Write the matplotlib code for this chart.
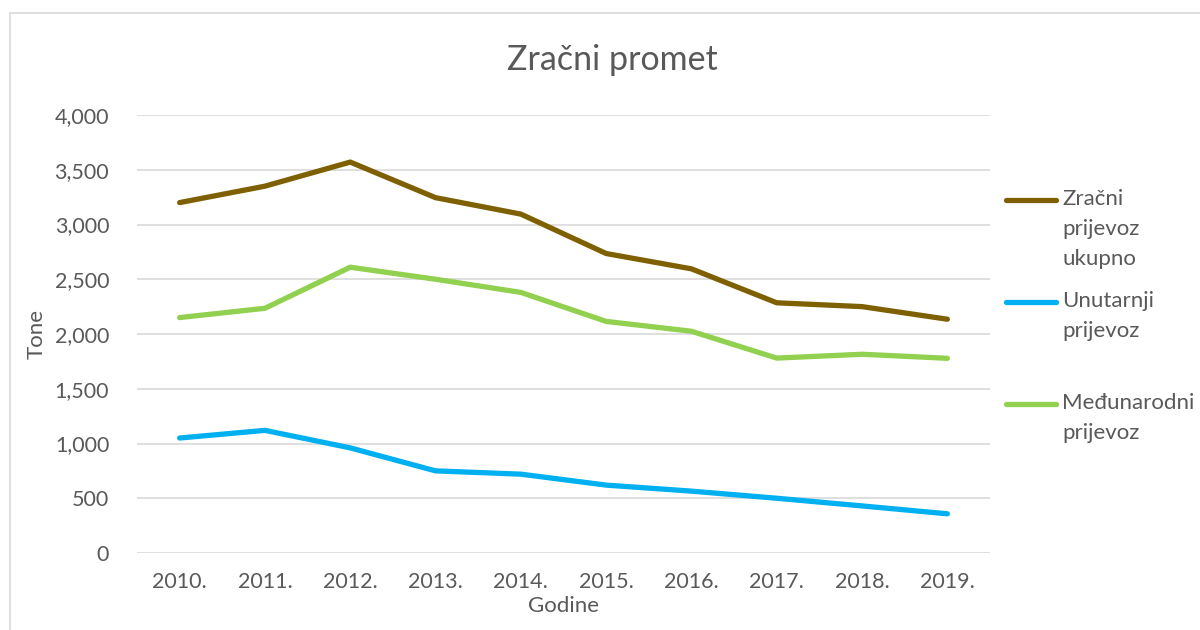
import matplotlib.pyplot as plt
from matplotlib.lines import Line2D
from matplotlib.patches import Rectangle
from matplotlib.ticker import FuncFormatter

years = ["2010.", "2011.", "2012.", "2013.", "2014.", "2015.", "2016.", "2017.", "2018.", "2019."]
ukupno = [3200, 3350, 3570, 3245, 3095, 2735, 2595, 2285, 2250, 2135]
unutarnji = [1050, 1120, 960, 750, 720, 620, 565, 500, 430, 358]
medunarodni = [2150, 2235, 2610, 2500, 2380, 2115, 2025, 1780, 1815, 1778]

labels = ["Zračni\nprijevoz\nukupno", "Unutarnji\nprijevoz", "Međunarodni\nprijevoz"]
colors = ["#7F6000", "#00B0F0", "#92D050"]

TEXT = "#595959"

plt.rcParams["font.family"] = ["Lato", "DejaVu Sans"]

W, H = 1200, 630
fig = plt.figure(figsize=(W / 100, H / 100), dpi=100)

# chart border
fig.patches.append(Rectangle((10 / W, -0.1), 1.2, 1 - 13 / H + 0.1, transform=fig.transFigure,
                             fill=False, edgecolor="#D9D9D9", linewidth=1.2))

# plot area in pixels: x 137..990, y 115..553
ax = fig.add_axes([137 / W, 1 - 553 / H, (990 - 137) / W, (553 - 115) / H])

x = range(len(years))
for series, c in zip([ukupno, unutarnji, medunarodni], colors):
    ax.plot(x, series, color=c, linewidth=3.8, solid_capstyle="round", solid_joinstyle="round", zorder=3)

ax.set_xlim(-0.5, len(years) - 0.5)
ax.set_ylim(0, 4000)
ax.set_yticks(range(0, 4001, 500))
ax.yaxis.set_major_formatter(FuncFormatter(lambda v, p: f"{int(v):,}"))
ax.set_xticks(list(x))
ax.set_xticklabels(years)
ax.grid(axis="y", color="#D9D9D9", linewidth=1.2)
ax.set_axisbelow(True)
for s in ax.spines.values():
    s.set_visible(False)
ax.tick_params(length=0, labelsize=15.5, labelcolor=TEXT)
ax.tick_params(axis="x", pad=14)
ax.tick_params(axis="y", pad=20)

ax.set_ylabel("Tone", fontsize=16, color=TEXT, va="center")
ax.yaxis.set_label_coords(-100 / 853, 0.5)
ax.set_xlabel("Godine", fontsize=16, color=TEXT, va="center")
ax.xaxis.set_label_coords(0.5, -53 / 438)

fig.text(612 / W, 1 - 60 / H, "Zračni promet", fontsize=24.5, color=TEXT, ha="center", va="center")

# legend, Excel style: evenly spaced entries
for i, (lab, c) in enumerate(zip(labels, colors)):
    ly = 200 + i * 102
    fig.add_artist(Line2D([1006 / W, 1056 / W], [1 - ly / H, 1 - ly / H], color=c, linewidth=3.8,
                          solid_capstyle="round", transform=fig.transFigure))
    fig.text(1062 / W, 1 - (ly - 11) / H, lab, fontsize=16, color=TEXT, ha="left", va="top",
             linespacing=1.62)

fig.savefig("out.png", dpi=100)
